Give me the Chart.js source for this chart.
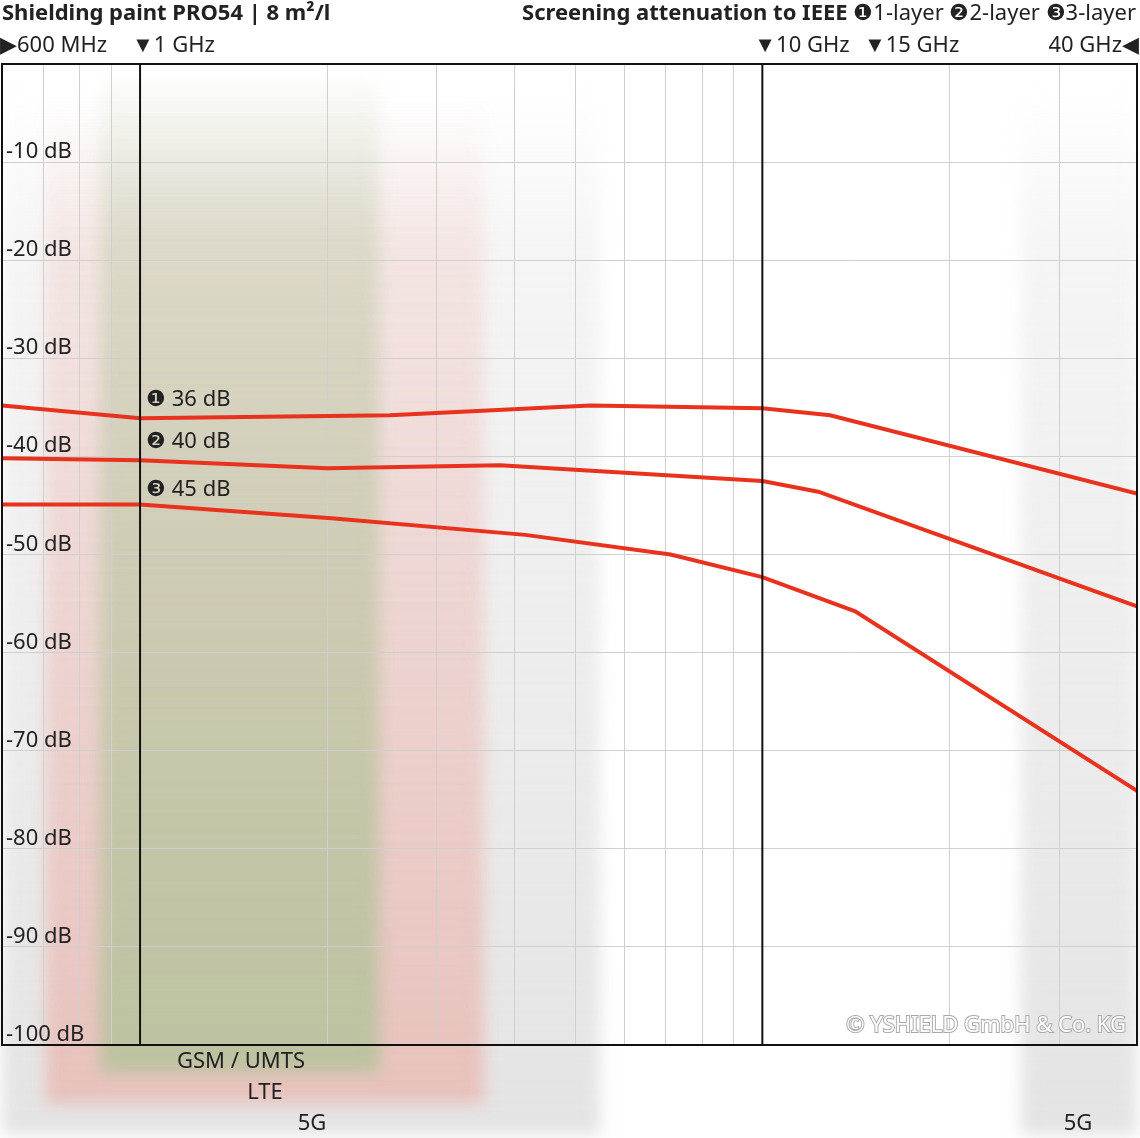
<!DOCTYPE html>
<html><head><meta charset="utf-8">
<script src="https://cdn.jsdelivr.net/npm/chart.js@4/dist/chart.umd.min.js"></script>
<style>html,body{margin:0;padding:0;background:#fff}#w{width:1140px;height:1138px}</style>
</head><body><div id="w"><canvas id="c"></canvas></div>
<script>
const freq1 = [600, 1000, 2520, 5290, 10000, 12850, 40000];
const layer1 = [-34.8, -36.1, -35.8, -34.8, -35.1, -35.8, -43.8];
const freq2 = [600, 1000, 2000, 3790, 10000, 12300, 40000];
const layer2 = [-40.2, -40.4, -41.2, -40.9, -42.5, -43.6, -55.3];
const freq3 = [600, 1000, 2030, 4160, 7120, 10000, 14100, 40000];
const layer3 = [-44.9, -44.9, -46.3, -48.0, -50.0, -52.3, -55.8, -74.1];
const gridFreqs = [600,700,800,900,1000,2000,3000,4000,5000,6000,7000,8000,9000,10000,20000,30000,40000];
const yTicks = [-10,-20,-30,-40,-50,-60,-70,-80,-90,-100];
const topMarks = [{f:600,t:'600 MHz',k:'r'},{f:1000,t:'1 GHz',k:'d'},{f:10000,t:'10 GHz',k:'d'},{f:15000,t:'15 GHz',k:'d'},{f:40000,t:'40 GHz',k:'l'}];
const bands = [
 {f0:600,f1:5490,bottom:1135,top:90,c:'rgba(205,205,205,',a:[0,0.2,0.55]},
 {f0:26000,f1:40000,bottom:1135,top:90,c:'rgba(205,205,205,',a:[0,0.2,0.55]},
 {f0:704,f1:3570,bottom:1104,top:100,c:'rgba(235,165,155,',a:[0,0.2,0.55]},
 {f0:862,f1:2425,bottom:1073,top:80,c:'rgba(180,195,155,',a:[0.05,0.35,0.85]}
];
const labels = [{t:'❶ 36 dB',y:398},{t:'❷ 40 dB',y:440},{t:'❸ 45 dB',y:488}];
const F = '"Noto Sans", sans-serif';
const ds = (f,v)=>({data:f.map((x,i)=>({x,y:v[i]})),borderColor:'#e8321e',borderWidth:4,pointRadius:0,tension:0,fill:false});

const deco = {
 id:'deco',
 beforeDraw(ch){
  const c=ch.ctx,x=ch.scales.x;
  c.save();
  c.filter='blur(8px)';
  bands.forEach(b=>{
   const x0=x.getPixelForValue(b.f0),x1=x.getPixelForValue(b.f1);
   const g=c.createLinearGradient(0,b.top,0,b.bottom);
   g.addColorStop(0,b.c+b.a[0]+')');g.addColorStop(0.15,b.c+b.a[1]+')');g.addColorStop(1,b.c+b.a[2]+')');
   c.fillStyle=g;c.fillRect(x0,b.top,x1-x0,b.bottom-b.top);
  });
  c.restore();
 },
 afterDatasetsDraw(ch){
  const c=ch.ctx,x=ch.scales.x,y=ch.scales.y,a=ch.chartArea;
  c.save();
  c.strokeStyle='#111';c.lineWidth=2;
  [1000,10000].forEach(f=>{const p=x.getPixelForValue(f);c.beginPath();c.moveTo(p,a.top);c.lineTo(p,a.bottom);c.stroke();});
  c.strokeRect(a.left,a.top,a.right-a.left,a.bottom-a.top);
  c.fillStyle='#222';c.font='22px '+F;c.textBaseline='alphabetic';
  yTicks.forEach(v=>{c.textAlign='left';c.fillText(v+' dB',6,y.getPixelForValue(v)-4);});
  labels.forEach(l=>c.fillText(l.t,x.getPixelForValue(1000)+6,l.y+8));
  c.textAlign='center';
  c.fillText('GSM / UMTS',241,1068);c.fillText('LTE',265,1099);c.fillText('5G',312,1130);c.fillText('5G',1078,1130);
  topMarks.forEach(m=>{
   const p=x.getPixelForValue(m.f);
   if(m.k==='r'){c.textAlign='left';c.fillText('▶'+m.t,p-2,52);}
   else if(m.k==='l'){c.textAlign='right';c.fillText(m.t+'◀',p+2,52);}
   else {c.textAlign='left';c.fillText('▼'+m.t,p-8,52);}
  });
  c.font='bold 22px '+F;c.textAlign='left';c.fillText('Shielding paint PRO54 | 8 m²/l',2,20);
  c.textAlign='right';c.font='22px '+F;
  const r='❶1-layer ❷2-layer ❸3-layer';c.fillText(r,1136,20);
  const w=c.measureText(r).width;c.font='bold 22px '+F;c.fillText('Screening attenuation to IEEE ',1136-w,20);
  c.font='22px '+F;c.textAlign='right';c.lineWidth=2;c.strokeStyle='#aaa';c.strokeText('© YSHIELD GmbH & Co. KG',1126,1032);
  c.fillStyle='#fff';c.fillText('© YSHIELD GmbH & Co. KG',1126,1032);
  c.restore();
 }
};

new Chart(document.getElementById('c'),{
 type:'line',
 data:{datasets:[ds(freq1,layer1),ds(freq2,layer2),ds(freq3,layer3)]},
 options:{responsive:true,maintainAspectRatio:false,animation:false,
  layout:{padding:{top:64,bottom:93,left:2,right:3}},
  plugins:{legend:{display:false},tooltip:{enabled:false}},
  scales:{
   x:{type:'logarithmic',min:600,max:40000,border:{display:false},
      afterBuildTicks(s){s.ticks=gridFreqs.map(v=>({value:v}));},
      ticks:{display:false},grid:{color:'#cfcfcf',lineWidth:1,drawTicks:false}},
   y:{min:-100,max:0,border:{display:false},
      afterBuildTicks(s){s.ticks=[0,...yTicks].map(v=>({value:v}));},
      ticks:{display:false},grid:{color:'#cfcfcf',lineWidth:1,drawTicks:false}}
  }},
 plugins:[deco]
});
</script></body></html>
